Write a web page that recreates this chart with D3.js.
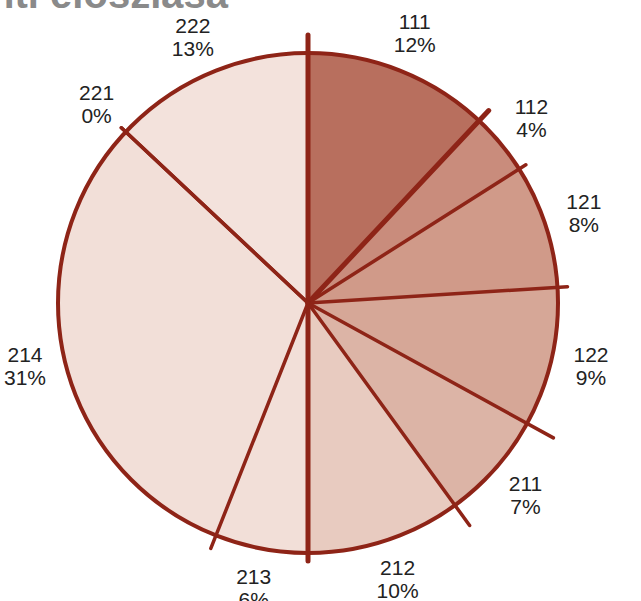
<!DOCTYPE html>
<html>
<head>
<meta charset="utf-8">
<script src="https://cdn.jsdelivr.net/npm/d3@7"></script>
<style>
  body { margin: 0; background: #fff; }
  svg { display: block; }
</style>
</head>
<body>
<svg width="641" height="601"></svg>
<script>
// categories and their share (percent labels)
const categories = ["111", "112", "121", "122", "211", "212", "213", "214", "221", "222"];
const shares = [12, 4, 8, 9, 7, 10, 6, 31, 0, 13];
const fills = ["#b86f5e", "#c98c7c", "#d09a89", "#d6a797", "#dcb4a6", "#e8cbc0",
               "#f2dfd8", "#f2dfd8", "#f2dfd8", "#f3e2dc"];

const width = 641, height = 601;
const cx = 308, cy = 303, radius = 250;

const svg = d3.select("svg");

// title, cut off at the top like the source
svg.append("text")
    .attr("x", 228)
    .attr("y", 8)
    .attr("text-anchor", "end")
    .style("font-family", "'Liberation Sans', Arial, sans-serif")
    .style("font-weight", "bold")
    .style("font-size", "40px")
    .style("fill", "#8a8a8a")
    .text("Felszínborítási kategóriák szerinti eloszlása");

const data = categories.map((c, i) => ({ cat: c, value: shares[i], fill: fills[i] }));

const pie = d3.pie()
    .sort(null)
    .value(d => d.value);
const arcs = pie(data);

const arc = d3.arc().innerRadius(0).outerRadius(radius);
const labelArc = d3.arc().innerRadius(290).outerRadius(290);

const g = svg.append("g")
    .attr("transform", "translate(" + cx + "," + cy + ")");

// slices
g.selectAll(".slice")
    .data(arcs)
    .enter()
    .append("path")
        .attr("class", "slice")
        .attr("d", arc)
        .attr("fill", d => d.data.fill)
        .attr("stroke", "none");

// outline circle
g.append("circle")
    .attr("r", radius)
    .attr("fill", "none")
    .attr("stroke", "#8e2417")
    .attr("stroke-width", 4);

// spokes on every slice boundary, overshooting the rim a bit
const spokeLen = d3.scaleOrdinal()
    .domain(categories)
    .range([radius + 18, radius + 14, radius + 8, radius + 10, radius + 30, radius + 25,
            radius + 8, radius + 14, radius + 6, radius + 6]);
g.selectAll(".spoke")
    .data(arcs)
    .enter()
    .append("line")
        .attr("class", "spoke")
        .attr("x1", 0)
        .attr("y1", 0)
        .attr("x2", d => Math.sin(d.startAngle) * spokeLen(d.data.cat))
        .attr("y2", d => -Math.cos(d.startAngle) * spokeLen(d.data.cat))
        .attr("stroke", "#8e2417")
        .attr("stroke-width", (d, i) => i === 0 || i === 1 || i === 6 ? 5 : 3.5)
        .attr("stroke-linecap", "round");

// labels
const labels = g.selectAll(".label")
    .data(arcs)
    .enter()
    .append("text")
        .attr("class", "label")
        .attr("transform", d => "translate(" + labelArc.centroid(d) + ")")
        .attr("text-anchor", "middle")
        .style("font-family", "'Liberation Sans', Arial, sans-serif")
        .style("font-size", "21px")
        .style("fill", "#222");

labels.append("tspan")
    .attr("x", 0)
    .attr("y", -4)
    .text(d => d.data.cat);
labels.append("tspan")
    .attr("x", 0)
    .attr("y", 19)
    .text(d => d.data.value + "%");
</script>
</body>
</html>
